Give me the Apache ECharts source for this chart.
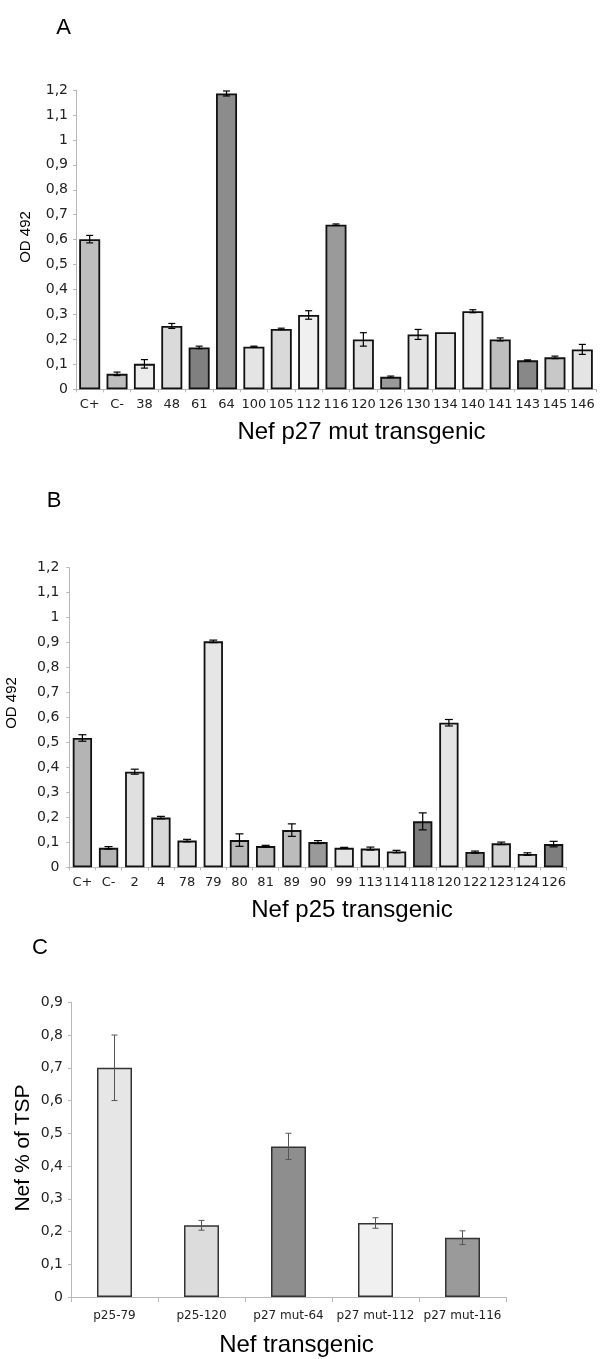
<!DOCTYPE html>
<html>
<head>
<meta charset="utf-8">
<script src="https://cdn.jsdelivr.net/npm/echarts@6/dist/echarts.min.js"></script>
<style>
html,body{margin:0;padding:0;background:#fff;}
#c{width:600px;height:1359px;}
</style>
</head>
<body>
<div id="c"></div>
<script>
// ---- Panel A data ----
const categoriesA = ['C+','C-','38','48','61','64','100','105','112','116','120','126','130','134','140','141','143','145','146'];
const valuesA = [0.602,0.062,0.102,0.254,0.168,1.186,0.171,0.242,0.298,0.660,0.200,0.050,0.220,0.229,0.313,0.200,0.116,0.128,0.160];
const errorsA = [0.015,0.007,0.017,0.010,0.005,0.010,0.002,0.003,0.017,0.003,0.027,0.003,0.020,0,0.006,0.006,0.002,0.005,0.020];
const colorsA = ['#bebebe','#bebebe','#ececec','#dadada','#808080','#8c8c8c','#e4e4e4','#d9d9d9','#f0f0f0','#9a9a9a','#e0e0e0','#9a9a9a','#e4e4e4','#e2e2e2','#ececec','#bebebe','#888888','#c8c8c8','#e4e4e4'];

// ---- Panel B data ----
const categoriesB = ['C+','C-','2','4','78','79','80','81','89','90','99','113','114','118','120','122','123','124','126'];
const valuesB = [0.518,0.078,0.383,0.199,0.107,0.905,0.109,0.085,0.149,0.101,0.078,0.075,0.063,0.184,0.579,0.061,0.096,0.053,0.093];
const errorsB = [0.013,0.005,0.010,0.005,0.005,0.005,0.025,0.003,0.025,0.006,0.002,0.006,0.005,0.034,0.013,0.004,0.005,0.005,0.011];
const colorsB = ['#b4b4b4','#b4b4b4','#e0e0e0','#d8d8d8','#e0e0e0','#e6e6e6','#b8b8b8','#bcbcbc','#bcbcbc','#9a9a9a','#e4e4e4','#e6e6e6','#dcdcdc','#7c7c7c','#e4e4e4','#9a9a9a','#d4d4d4','#dcdcdc','#7e7e7e'];

// ---- Panel C data ----
const categoriesC = ['p25-79','p25-120','p27 mut-64','p27 mut-112','p27 mut-116'];
const valuesC = [0.700,0.219,0.460,0.226,0.181];
const errorsC = [0.100,0.015,0.040,0.016,0.021];
const colorsC = ['#e6e6e6','#dcdcdc','#8e8e8e','#f0f0f0','#9a9a9a'];

const ticksAB = {min:0,max:1.2,interval:0.1};
const ticksC = {min:0,max:0.9,interval:0.1};

const fmt = v => String(+v.toFixed(1)).replace('.', ',');
const tickFont = 'DejaVu Sans';
const titleFont = 'Liberation Sans, Arial, sans-serif';

function yAxis(gi, t, margin){
  return {gridIndex:gi,type:'value',min:t.min,max:t.max,interval:t.interval,
    axisLine:{show:true,lineStyle:{color:'#b8b8b8',width:1}},
    axisTick:{show:true,length:3,lineStyle:{color:'#b8b8b8'}},
    splitLine:{show:false},
    axisLabel:{formatter:fmt,fontFamily:tickFont,fontSize:14,color:'#222',margin:margin}};
}
function xAxis(gi, cats, margin, tickLen, fs){
  return {gridIndex:gi,type:'category',data:cats,
    axisLine:{show:true,lineStyle:{color:'#b8b8b8',width:1}},
    axisTick:{show:true,length:tickLen,alignWithLabel:false,lineStyle:{color:'#b8b8b8'}},
    axisLabel:{interval:0,fontFamily:tickFont,fontSize:fs,color:'#222',margin:margin}};
}
function bars(gi, vals, cols, width, borderColor, borderWidth){
  return {type:'bar',xAxisIndex:gi,yAxisIndex:gi,barWidth:width,
    data:vals.map((v,i)=>({value:v,itemStyle:{color:cols[i]}})),
    itemStyle:{borderColor:borderColor,borderWidth:borderWidth},
    silent:true,z:2};
}
function errs(gi, vals, es, cap, color, lw){
  return {type:'custom',xAxisIndex:gi,yAxisIndex:gi,z:5,silent:true,
    data:vals.map((v,i)=>[i,v,es[i]]),
    renderItem:function(params, api){
      const x=api.value(0), v=api.value(1), e=api.value(2);
      if(!e) return null;
      const hi=api.coord([x,v+e]), lo=api.coord([x,v-e]);
      const st={stroke:color,lineWidth:lw};
      return {type:'group',children:[
        {type:'line',shape:{x1:hi[0],y1:hi[1],x2:lo[0],y2:lo[1]},style:st},
        {type:'line',shape:{x1:hi[0]-cap,y1:hi[1],x2:hi[0]+cap,y2:hi[1]},style:st},
        {type:'line',shape:{x1:lo[0]-cap,y1:lo[1],x2:lo[0]+cap,y2:lo[1]},style:st}
      ]};
    }};
}
function txt(s, x, y, size, rot){
  return {type:'text',x:x,y:y,rotation:rot||0,
    style:{text:s,font:'normal '+size+'px '+titleFont,fill:'#000',textAlign:'center',textVerticalAlign:'middle'}};
}

const chart = echarts.init(document.getElementById('c'), null, {renderer:'canvas'});
chart.setOption({
  animation:false,
  backgroundColor:'#fff',
  grid:[
    {left:76,top:90,width:520,height:299.3},
    {left:69.3,top:567.7,width:497.4,height:299.6},
    {left:71,top:1002.3,width:435,height:294.7}
  ],
  xAxis:[xAxis(0,categoriesA,8.5,3,13), xAxis(1,categoriesB,9,3,13), xAxis(2,categoriesC,13,5,12)],
  yAxis:[yAxis(0,ticksAB,8), yAxis(1,ticksAB,10), yAxis(2,ticksC,8)],
  series:[
    bars(0,valuesA,colorsA,21,'#111',1.8),
    errs(0,valuesA,errorsA,3.5,'#000',1.2),
    bars(1,valuesB,colorsB,19.3,'#111',1.8),
    errs(1,valuesB,errorsB,4,'#000',1.2),
    bars(2,valuesC,colorsC,35,'#333',1.5),
    errs(2,valuesC,errorsC,3,'#555',1)
  ],
  graphic:[
    txt('A',63.5,27.5,22),
    txt('OD 492',25.5,237,15,Math.PI/2),
    txt('Nef p27 mut transgenic',361.5,432,24),
    txt('B',54,500.5,22),
    txt('OD 492',11.7,703,15,Math.PI/2),
    txt('Nef p25 transgenic',352,910,24),
    txt('C',40,948,22),
    txt('Nef % of TSP',23,1148,21,Math.PI/2),
    txt('Nef transgenic',296.5,1345,24)
  ]
});
</script>
</body>
</html>
